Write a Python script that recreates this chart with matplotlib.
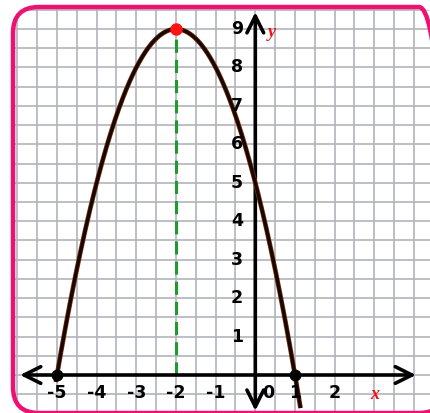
import numpy as np
import matplotlib
matplotlib.use('Agg')
import matplotlib.pyplot as plt
import matplotlib.transforms as mtransforms
import matplotlib.patheffects as pe
from matplotlib.patches import FancyBboxPatch

# ─── data ───
vertex = (-2, 9)
roots = [-5, 1]
y_intercept = 5
curve_x_range = (-5.03, 1.14)
x_tick_vals = [-5, -4, -3, -2, -1, 1, 2]
y_tick_vals = [1, 2, 3, 4, 5, 6, 7, 8, 9]

W, H = 430, 413
fig = plt.figure(figsize=(W / 100, H / 100), dpi=100)
ax = fig.add_axes([0, 0, 1, 1])

# pixel -> data mapping
x0_px, x_scale = 255.3, 39.67
y0_px, y_scale = 375.0, 38.44
ax.set_xlim((0 - x0_px) / x_scale, (W - x0_px) / x_scale)
ax.set_ylim((y0_px - H) / y_scale, (y0_px - 0) / y_scale)
ax.axis('off')

# rounded pink frame, in pixel coords (right side runs off the image)
px = mtransforms.Affine2D().scale(1 / W, 1 / H) + fig.transFigure
frame = FancyBboxPatch((13, H - 413), 432, 406,
                       boxstyle="round,pad=0,rounding_size=26",
                       transform=px, facecolor='none', edgecolor='#ee1172',
                       linewidth=3.2, zorder=10)
fig.patches.append(frame)

# grid every 0.5, clipped to the frame
gx = np.arange(-6.5, 5.0, 0.5)
gy = np.arange(-1.0, 10.0, 0.5)
vl = ax.vlines(gx, -2, 11, color='#b3b3bb', lw=1.2, zorder=1)
hl = ax.hlines(gy, -7, 5, color='#b3b3bb', lw=1.2, zorder=1)
clip = FancyBboxPatch((15, H - 411), 428, 402,
                      boxstyle="round,pad=0,rounding_size=24",
                      transform=px, facecolor='none', edgecolor='none')
vl.set_clip_path(clip)
hl.set_clip_path(clip)

# axes with arrows
ax.annotate('', xy=(4.05, 0), xytext=(-5.93, 0),
            arrowprops=dict(arrowstyle='<->,head_length=0.6,head_width=0.3',
                            lw=2.6, color='black', mutation_scale=20,
                            shrinkA=0, shrinkB=0), zorder=4)
ax.annotate('', xy=(0, 9.44), xytext=(0, -0.93),
            arrowprops=dict(arrowstyle='<->,head_length=0.6,head_width=0.3',
                            lw=2.6, color='black', mutation_scale=20,
                            shrinkA=0, shrinkB=0), zorder=4)

# axis of symmetry
ax.plot([vertex[0], vertex[0]], [0, vertex[1]], color='#1e9a2e', lw=2.2,
        dashes=(4.3, 2.3), zorder=3)

# parabola y = a(x-h)^2 + k
h, k = vertex
a = (y_intercept - k) / (0 - h) ** 2
xs = np.linspace(curve_x_range[0], curve_x_range[1], 300)
ys = a * (xs - h) ** 2 + k
ax.plot(xs, ys, color='#1a0700', lw=2.4, zorder=5, solid_capstyle='butt',
        path_effects=[pe.Stroke(linewidth=3.4, foreground='#7a3612'), pe.Normal()])

# points
ax.plot(roots, [0, 0], 'o', color='black', ms=7.5, zorder=6)
ax.plot([vertex[0]], [vertex[1]], 'o', color='#ff1414', ms=8, zorder=6)

# labels
lab = dict(family=['Liberation Sans Narrow', 'DejaVu Sans'], fontweight='bold',
           fontsize=12.5, ha='center', va='center', zorder=7)
for v in x_tick_vals:
    ax.text(v, -0.47, str(v), **lab)
ax.text(0.32, -0.47, '0', **lab)
for v in y_tick_vals:
    ax.text(-0.46, v, str(v), **lab)

ax.text(3.02, -0.52, 'x', color='#ee1111', fontsize=13, fontweight='bold',
        style='italic', family=['Liberation Serif', 'DejaVu Serif'],
        ha='center', va='center', zorder=7)
ax.text(0.42, 8.92, 'y', color='#ee1111', fontsize=13, fontweight='bold',
        style='italic', family=['Liberation Serif', 'DejaVu Serif'],
        ha='center', va='center', zorder=7)

fig.savefig('out.png', dpi=100)
